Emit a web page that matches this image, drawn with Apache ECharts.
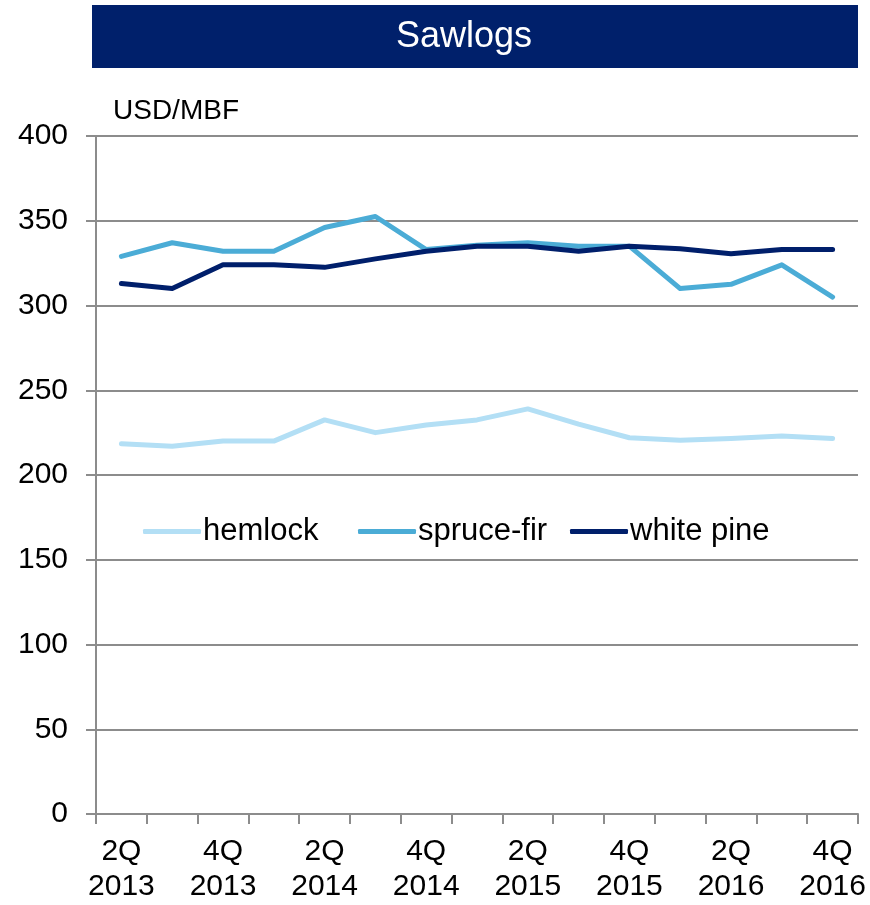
<!DOCTYPE html>
<html><head><meta charset="utf-8">
<script src="https://cdn.jsdelivr.net/npm/echarts@6/dist/echarts.min.js"></script>
<style>html,body{margin:0;padding:0;background:#fff}#c{width:870px;height:905px}</style>
</head><body><div id="c"></div>
<script>
const categories = ['2Q\n2013','3Q\n2013','4Q\n2013','1Q\n2014','2Q\n2014','3Q\n2014','4Q\n2014','1Q\n2015','2Q\n2015','3Q\n2015','4Q\n2015','1Q\n2016','2Q\n2016','3Q\n2016','4Q\n2016'];
const hemlock = [218.5,217,220,220,232.5,225,229.5,232.5,239,230,222,220.5,221.5,223,221.5];
const spruceFir = [329,337,332,332,346,352.5,333,335.5,337,335,335,310,312.5,324,305];
const whitePine = [313,310,324,324,322.5,327.5,332,335,335,332,335,333.5,330.5,333,333];
const yTicks = [0,50,100,150,200,250,300,350,400];
const seriesNames = ['hemlock','spruce-fir','white pine'];

const chart = echarts.init(document.getElementById('c'));
const font = 'Liberation Sans, Arial, sans-serif';
const legendLefts = [138, 353, 565];
chart.setOption({
  animation:false,
  graphic:[
    {type:'rect',shape:{x:92,y:5,width:766,height:63},style:{fill:'#00206b'}},
    {type:'text',x:464,y:37,style:{text:'Sawlogs',fill:'#fff',font:'36px '+font,textAlign:'center',textVerticalAlign:'middle'}}
  ],
  grid:{left:96,right:12,top:136,bottom:91},
  legend: seriesNames.map((n,i)=>({
    left:legendLefts[i], top:511, itemWidth:58, itemHeight:5,
    icon:'roundRect', selectedMode:false,
    textStyle:{fontSize:31,fontFamily:font,color:'#000',padding:[0,0,0,-3]},
    data:[n]
  })),
  xAxis:{
    type:'category', data:categories, boundaryGap:true,
    axisLine:{lineStyle:{color:'#8c8c8c',width:2}},
    axisTick:{show:true,interval:0,length:10,lineStyle:{color:'#8c8c8c',width:2}},
    axisLabel:{interval:1,fontSize:30,fontFamily:font,color:'#000',lineHeight:35,margin:20}
  },
  yAxis:{
    type:'value', min:0, max:400, interval:50,
    name:'USD/MBF', nameLocation:'end', nameGap:11,
    nameTextStyle:{fontSize:28,fontFamily:font,color:'#000',align:'left',padding:[0,0,0,17]},
    axisLine:{show:true,lineStyle:{color:'#8c8c8c',width:2}},
    axisTick:{show:true,length:10,lineStyle:{color:'#8c8c8c',width:2}},
    splitLine:{lineStyle:{color:'#8c8c8c',width:2}},
    axisLabel:{fontSize:30,fontFamily:font,color:'#000',margin:28,
      formatter:v=>yTicks.includes(v)?String(v):''}
  },
  series:[
    {name:seriesNames[0],type:'line',data:hemlock,symbol:'none',lineStyle:{width:5,color:'#b3dff5',cap:'round',join:'round'},itemStyle:{color:'#b3dff5'}},
    {name:seriesNames[1],type:'line',data:spruceFir,symbol:'none',lineStyle:{width:5,color:'#4bacd6',cap:'round',join:'round'},itemStyle:{color:'#4bacd6'}},
    {name:seriesNames[2],type:'line',data:whitePine,symbol:'none',lineStyle:{width:5,color:'#001f6b',cap:'round',join:'round'},itemStyle:{color:'#001f6b'}}
  ]
});
</script></body></html>
